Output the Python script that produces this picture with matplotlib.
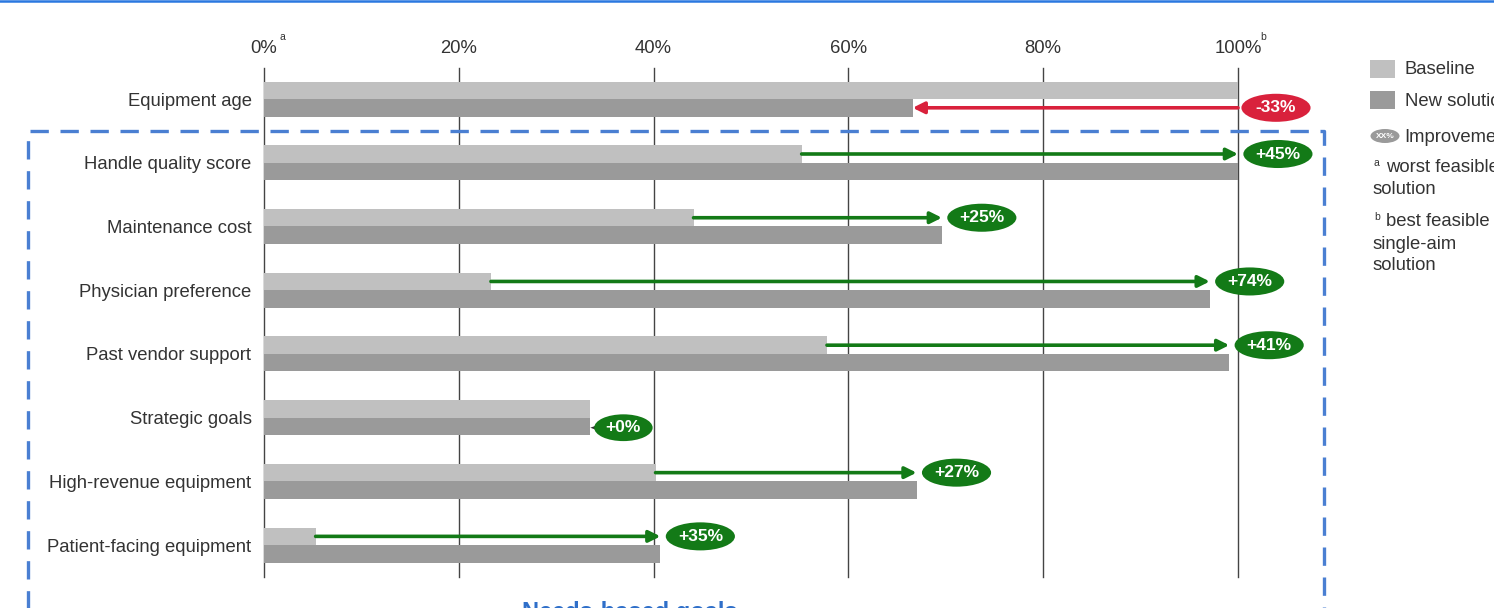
import matplotlib
matplotlib.use("Agg")
import matplotlib.pyplot as plt
from matplotlib.patches import Ellipse, Polygon, Rectangle
from matplotlib.lines import Line2D

plt.rcParams['font.family'] = ['Liberation Sans', 'DejaVu Sans']

categories = ["Equipment age", "Handle quality score", "Maintenance cost",
              "Physician preference", "Past vendor support", "Strategic goals",
              "High-revenue equipment", "Patient-facing equipment"]
baseline = [100, 55.2, 44.1, 23.3, 57.8, 33.5, 40.2, 5.3]
new_solution = [66.6, 100, 69.6, 97.1, 99.1, 33.5, 67.0, 40.7]
improvement = ["-33%", "+45%", "+25%", "+74%", "+41%", "+0%", "+27%", "+35%"]
xticks = [0, 20, 40, 60, 80, 100]
xticklabels = ["0%", "20%", "40%", "60%", "80%", "100%"]

W, H = 1494, 608
fig = plt.figure(figsize=(W / 100, H / 100), dpi=100)
ax = fig.add_axes([264 / W, 1 - 577 / H, (1238 - 264) / W, (577 - 68) / H])
ax.patch.set_visible(False)

c_base = "#c0c0c0"
c_new = "#9a9a9a"
c_green = "#137a17"
c_red = "#d9213c"
c_text = "#333333"
FS = 13.3

bh = 0.275
rows = list(range(len(categories)))
ax.barh([r - bh / 2 for r in rows], baseline, height=bh, color=c_base, zorder=2)
ax.barh([r + bh / 2 for r in rows], new_solution, height=bh, color=c_new, zorder=2)

ax.set_xlim(0, 100)
ax.set_ylim(len(categories) - 0.5, -0.487)
for x in xticks:
    ax.axvline(x, color="#444444", lw=1.0, zorder=1, clip_on=False)

ax.xaxis.tick_top()
ax.set_xticks(xticks)
ax.set_xticklabels(xticklabels, fontsize=FS, color=c_text)
ax.tick_params(axis='x', length=0, pad=8)
ax.set_yticks(rows)
ax.set_yticklabels(categories, fontsize=FS, color=c_text)
ax.tick_params(axis='y', length=0, pad=9)
for s in ax.spines.values():
    s.set_visible(False)

# superscripts
ax.text(1.6, 1.052, "a", transform=ax.get_xaxis_transform(), fontsize=7.5, color=c_text,
        ha="left", va="bottom", clip_on=False)
ax.text(102.3, 1.052, "b", transform=ax.get_xaxis_transform(), fontsize=7.5, color=c_text,
        ha="left", va="bottom", clip_on=False)

ew, eh = 7.1, 0.44
for r, b, n, lab in zip(rows, baseline, new_solution, improvement):
    if n > b:
        y = r - bh / 2
        col = c_green
        ax.annotate("", xy=(n, y), xytext=(b, y),
                    arrowprops=dict(arrowstyle="-|>", color=col, lw=2.6,
                                    mutation_scale=17, shrinkA=0, shrinkB=0),
                    zorder=4)
        cx = max(b, n) + 4.1
        ax.add_patch(Ellipse((cx, y), ew, eh, facecolor=col, edgecolor="none",
                             clip_on=False, zorder=5))
        ax.text(cx, y, lab, color="white", fontsize=12.5, fontweight="bold",
                ha="center", va="center", zorder=6, clip_on=False)
    elif n < b:
        y = r + bh / 2
        col = c_red
        ax.annotate("", xy=(n, y), xytext=(b, y),
                    arrowprops=dict(arrowstyle="-|>", color=col, lw=2.6,
                                    mutation_scale=17, shrinkA=0, shrinkB=0),
                    zorder=4)
        cx = max(b, n) + 3.9
        ax.add_patch(Ellipse((cx, y), ew, eh, facecolor=col, edgecolor="none",
                             clip_on=False, zorder=5))
        ax.text(cx, y, lab, color="white", fontsize=12.5, fontweight="bold",
                ha="center", va="center", zorder=6, clip_on=False)
    else:
        y = r + bh / 2 + 0.02
        col = c_green
        cx = n + 3.4
        ax.add_patch(Polygon([[n, y], [n + 1.8, y - 0.1], [n + 1.8, y + 0.1]],
                             closed=True, facecolor="#333333", edgecolor="none", zorder=4))
        ax.add_patch(Ellipse((cx, y), 6.0, 0.42, facecolor=col, edgecolor="none",
                             clip_on=False, zorder=5))
        ax.text(cx, y, lab, color="white", fontsize=12.5, fontweight="bold",
                ha="center", va="center", zorder=6)

def fx(px):
    return px / W

def fy(py):
    return 1 - py / H

# dashed blue frame (figure coords), drawn above the grid
frame = Line2D([fx(28), fx(28), fx(1324), fx(1324)],
               [fy(620), fy(131), fy(131), fy(620)],
               transform=fig.transFigure, color="#4a7fd2", lw=2.4,
               linestyle=(0, (5.5, 3.5)), zorder=3)
fig.add_artist(frame)

# top blue line
fig.add_artist(Line2D([0, 1], [fy(0.8), fy(0.8)], transform=fig.transFigure,
                      color="#2a78e0", lw=1.8))

# bottom heading (cut off in the reference)
fig.text(fx(630), fy(601), "Needs-based goals", color="#2f6fc9", fontsize=17,
         fontweight="bold", ha="center", va="top")

# legend
fig.add_artist(Rectangle((fx(1370), fy(78)), 25 / W, 18 / H, transform=fig.transFigure,
                         facecolor=c_base, edgecolor="none"))
fig.add_artist(Rectangle((fx(1370), fy(109)), 25 / W, 18 / H, transform=fig.transFigure,
                         facecolor=c_new, edgecolor="none"))
fig.text(fx(1405), fy(70), "Baseline", fontsize=FS, color=c_text, va="center", ha="left")
fig.text(fx(1405), fy(101), "New solution", fontsize=FS, color=c_text, va="center", ha="left")
fig.add_artist(Ellipse((fx(1385), fy(136)), 29 / W, 14 / H, transform=fig.transFigure,
                       facecolor="#9a9a9a", edgecolor="none"))
fig.text(fx(1385), fy(136), "XX%", fontsize=6, color="white", fontweight="bold",
         ha="center", va="center")
fig.text(fx(1404), fy(137), "Improvement", fontsize=FS, color=c_text, va="center", ha="left")
fig.text(fx(1374), fy(163), "a", fontsize=7.5, color=c_text, va="center", ha="left")
fig.text(fx(1386), fy(167), "worst feasible", fontsize=FS, color=c_text, va="center", ha="left")
fig.text(fx(1373), fy(189), "solution", fontsize=FS, color=c_text, va="center", ha="left")
fig.text(fx(1374), fy(217), "b", fontsize=7.5, color=c_text, va="center", ha="left")
fig.text(fx(1386), fy(221), "best feasible", fontsize=FS, color=c_text, va="center", ha="left")
fig.text(fx(1373), fy(244), "single-aim", fontsize=FS, color=c_text, va="center", ha="left")
fig.text(fx(1373), fy(266), "solution", fontsize=FS, color=c_text, va="center", ha="left")

fig.savefig("out.png", dpi=100, facecolor="white")
